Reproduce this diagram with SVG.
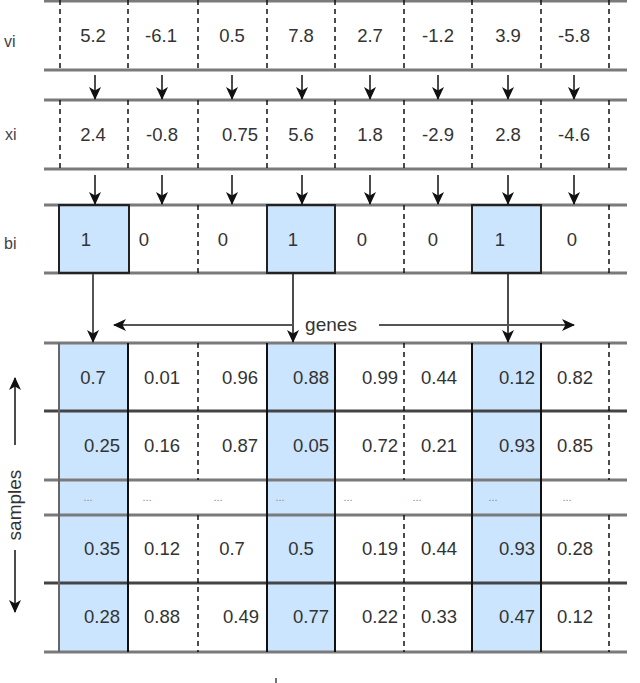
<svg xmlns="http://www.w3.org/2000/svg" width="640" height="683" viewBox="0 0 640 683">
<style>
  text { font-family: "Liberation Sans", Arial, sans-serif; fill: #333; }
  .n { font-size: 18.5px; text-anchor: middle; }
  .lab { font-size: 16px; fill: #444; }
  .dots { font-size: 11px; text-anchor: middle; fill: #888; }
  .h { stroke: #7a7a7a; stroke-width: 3; fill: none; }
  .hd { stroke: #444; stroke-width: 3; fill: none; }
  .d { stroke: #111; stroke-width: 1.5; stroke-dasharray: 5 4; fill: none; }
  .blue { fill: #cce5ff; stroke: none; }
  .bx { stroke: #222; stroke-width: 2; fill: none; }
  .ar { stroke: #111; stroke-width: 1.5; fill: none; marker-end: url(#ah); }
  .ag { stroke: #555; stroke-width: 2; fill: none; marker-end: url(#ah); }
</style>
<defs>
  <marker id="ah" markerUnits="userSpaceOnUse" markerWidth="14" markerHeight="14" refX="12" refY="7" orient="auto">
    <path d="M0,1 L13,7 L0,13 L3.5,7 z" fill="#111"/>
  </marker>
</defs>

<g id="fills">
  <rect class="blue" x="59" y="205" width="70" height="68"/>
  <rect class="blue" x="267" y="205" width="68" height="68"/>
  <rect class="blue" x="472" y="205" width="69" height="68"/>
  <rect class="blue" x="59" y="343" width="69" height="309"/>
  <rect class="blue" x="267" y="343" width="68" height="309"/>
  <rect class="blue" x="472" y="343" width="69" height="309"/>
</g>

<g id="rows">
  <line class="h" x1="44" y1="1" x2="627" y2="1"/>
  <line class="h" x1="44" y1="70" x2="627" y2="70"/>
  <line class="h" x1="44" y1="100" x2="627" y2="100"/>
  <line class="h" x1="44" y1="169" x2="627" y2="169"/>
  <line class="h" x1="44" y1="205" x2="627" y2="205"/>
  <line class="h" x1="44" y1="273" x2="627" y2="273"/>
  <line class="h" x1="44" y1="343" x2="627" y2="343"/>
  <line class="hd" x1="44" y1="411" x2="627" y2="411"/>
  <line class="h" x1="44" y1="480" x2="627" y2="480"/>
  <line class="h" x1="44" y1="515" x2="627" y2="515"/>
  <line class="hd" x1="44" y1="583" x2="627" y2="583"/>
  <line class="h" x1="44" y1="652" x2="627" y2="652"/>
</g>

<g id="dashes">
  <path class="d" d="M60,0V70 M128,0V70 M198,0V70 M267,0V70 M335,0V70 M404,0V70 M472,0V70 M541,0V70 M609,0V70"/>
  <path class="d" d="M60,100V169 M128,100V169 M198,100V169 M267,100V169 M335,100V169 M404,100V169 M472,100V169 M541,100V169 M609,100V169"/>
  <path class="d" d="M198,205V273 M404,205V273 M609,205V273"/>
  <path class="d" d="M198,343V480 M404,343V480 M609,343V480"/>
  <path class="d" d="M198,515V652 M404,515V652 M609,515V652"/>
</g>

<g id="labels">
  <text class="lab" x="4" y="47">vi</text>
  <text class="lab" x="5" y="140">xi</text>
  <text class="lab" x="4" y="249">bi</text>
</g>

<g id="row-v">
  <text class="n" x="93" y="42">5.2</text>
  <text class="n" x="161" y="42">-6.1</text>
  <text class="n" x="232" y="42">0.5</text>
  <text class="n" x="301" y="42">7.8</text>
  <text class="n" x="370" y="42">2.7</text>
  <text class="n" x="438" y="42">-1.2</text>
  <text class="n" x="508" y="42">3.9</text>
  <text class="n" x="574" y="42">-5.8</text>
</g>

<g id="row-x">
  <text class="n" x="93" y="141">2.4</text>
  <text class="n" x="162" y="141">-0.8</text>
  <text class="n" x="240" y="141">0.75</text>
  <text class="n" x="301" y="141">5.6</text>
  <text class="n" x="370" y="141">1.8</text>
  <text class="n" x="438" y="141">-2.9</text>
  <text class="n" x="508" y="141">2.8</text>
  <text class="n" x="574" y="141">-4.6</text>
</g>

<g id="row-b">
  <g id="b1"><rect class="bx" x="59" y="205" width="70" height="68"/><text class="n" x="86" y="246">1</text></g>
  <g id="b2"><text class="n" x="144" y="246">0</text></g>
  <g id="b3"><text class="n" x="223" y="246">0</text></g>
  <g id="b4"><rect class="bx" x="267" y="205" width="68" height="68"/><text class="n" x="293" y="246">1</text></g>
  <g id="b5"><text class="n" x="362" y="246">0</text></g>
  <g id="b6"><text class="n" x="433" y="246">0</text></g>
  <g id="b7"><rect class="bx" x="472" y="205" width="69" height="68"/><text class="n" x="500" y="246">1</text></g>
  <g id="b8"><text class="n" x="572" y="246">0</text></g>
</g>

<g id="matrix">
  <g id="col1"><line x1="59" y1="343" x2="59" y2="652" stroke="#666" stroke-width="2"/><line x1="128" y1="343" x2="128" y2="652" stroke="#111" stroke-width="2"/></g>
  <g id="col4"><line x1="267" y1="343" x2="267" y2="652" stroke="#111" stroke-width="2"/><line x1="335" y1="343" x2="335" y2="652" stroke="#111" stroke-width="2"/></g>
  <g id="col7"><line x1="472" y1="343" x2="472" y2="652" stroke="#111" stroke-width="2"/><line x1="541" y1="343" x2="541" y2="652" stroke="#111" stroke-width="2"/></g>
  <g id="m-row1">
    <text class="n" x="93" y="384">0.7</text>
    <text class="n" x="162" y="384">0.01</text>
    <text class="n" x="240" y="384">0.96</text>
    <text class="n" x="311" y="384">0.88</text>
    <text class="n" x="380" y="384">0.99</text>
    <text class="n" x="439" y="384">0.44</text>
    <text class="n" x="517" y="384">0.12</text>
    <text class="n" x="575" y="384">0.82</text>
  </g>
  <g id="m-row2">
    <text class="n" x="102" y="452">0.25</text>
    <text class="n" x="162" y="452">0.16</text>
    <text class="n" x="240" y="452">0.87</text>
    <text class="n" x="311" y="452">0.05</text>
    <text class="n" x="380" y="452">0.72</text>
    <text class="n" x="439" y="452">0.21</text>
    <text class="n" x="517" y="452">0.93</text>
    <text class="n" x="575" y="452">0.85</text>
  </g>
  <g id="m-row3">
    <text class="dots" x="88" y="501">...</text>
    <text class="dots" x="147" y="501">...</text>
    <text class="dots" x="218" y="501">...</text>
    <text class="dots" x="280" y="501">...</text>
    <text class="dots" x="348" y="501">...</text>
    <text class="dots" x="417" y="501">...</text>
    <text class="dots" x="493" y="501">...</text>
    <text class="dots" x="567" y="501">...</text>
  </g>
  <g id="m-row4">
    <text class="n" x="102" y="555">0.35</text>
    <text class="n" x="162" y="555">0.12</text>
    <text class="n" x="232" y="555">0.7</text>
    <text class="n" x="301" y="555">0.5</text>
    <text class="n" x="380" y="555">0.19</text>
    <text class="n" x="439" y="555">0.44</text>
    <text class="n" x="517" y="555">0.93</text>
    <text class="n" x="575" y="555">0.28</text>
  </g>
  <g id="m-row5">
    <text class="n" x="102" y="623">0.28</text>
    <text class="n" x="162" y="623">0.88</text>
    <text class="n" x="241" y="623">0.49</text>
    <text class="n" x="311" y="623">0.77</text>
    <text class="n" x="380" y="623">0.22</text>
    <text class="n" x="439" y="623">0.33</text>
    <text class="n" x="517" y="623">0.47</text>
    <text class="n" x="575" y="623">0.12</text>
  </g>
</g>

<g id="genes-label"><text x="331" y="331" style="font-size:19px;text-anchor:middle">genes</text></g>
<g id="samples-label"><text transform="translate(21,505) rotate(-90)" style="font-size:19px;text-anchor:middle">samples</text></g>

<g id="connectors">
  <line class="ar" x1="95" y1="75" x2="95" y2="99"/>
  <line class="ar" x1="162" y1="75" x2="162" y2="99"/>
  <line class="ar" x1="232" y1="75" x2="232" y2="99"/>
  <line class="ar" x1="302" y1="75" x2="302" y2="99"/>
  <line class="ar" x1="370" y1="75" x2="370" y2="99"/>
  <line class="ar" x1="438" y1="75" x2="438" y2="99"/>
  <line class="ar" x1="508" y1="75" x2="508" y2="99"/>
  <line class="ar" x1="574" y1="75" x2="574" y2="99"/>
  <line class="ar" x1="95" y1="175" x2="95" y2="204"/>
  <line class="ar" x1="162" y1="175" x2="162" y2="204"/>
  <line class="ar" x1="232" y1="175" x2="232" y2="204"/>
  <line class="ar" x1="302" y1="175" x2="302" y2="204"/>
  <line class="ar" x1="370" y1="175" x2="370" y2="204"/>
  <line class="ar" x1="438" y1="175" x2="438" y2="204"/>
  <line class="ar" x1="508" y1="175" x2="508" y2="204"/>
  <line class="ar" x1="574" y1="175" x2="574" y2="204"/>
  <line class="ag" x1="93" y1="274" x2="93" y2="342"/>
  <line class="ar" x1="293" y1="274" x2="293" y2="342"/>
  <line class="ar" x1="508" y1="274" x2="508" y2="342"/>
  <line class="ag" x1="293" y1="325" x2="114" y2="325"/>
  <line class="ag" x1="379" y1="325" x2="574" y2="325"/>
  <line class="ar" x1="15" y1="445" x2="15" y2="378"/>
  <line class="ar" x1="15" y1="550" x2="15" y2="612"/>
</g>
<line x1="276" y1="678" x2="276" y2="683" stroke="#444" stroke-width="1.5"/>
</svg>
